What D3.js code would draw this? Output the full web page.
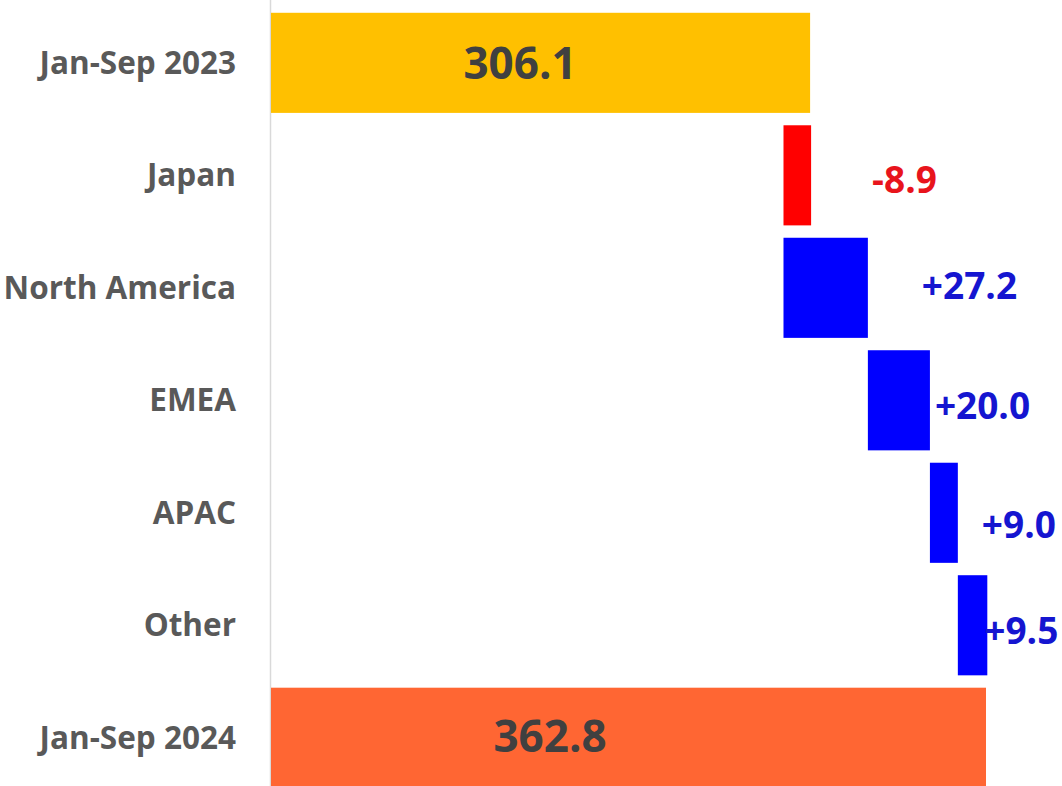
<!DOCTYPE html>
<html><head><meta charset="utf-8">
<script src="https://cdn.jsdelivr.net/npm/d3@7"></script>
<style>html,body{margin:0;padding:0;background:#fff;overflow:hidden}</style>
</head><body>
<svg id="c" width="1062" height="786"></svg>
<script>
const categories = ["Jan-Sep 2023","Japan","North America","EMEA","APAC","Other","Jan-Sep 2024"];
const kinds = ["total","delta","delta","delta","delta","delta","total"];
const values = [306.1, -8.9, 27.2, 20.0, 9.0, 9.5, 362.8];
const valueLabels = ["306.1","-8.9","+27.2","+20.0","+9.0","+9.5","362.8"];
const axisMin = 132;

// compute waterfall spans
let run = 0;
const rows = categories.map((c,i)=>{
  let s,e;
  if (kinds[i]==="total"){ s = axisMin; e = values[i]; run = values[i]; }
  else { s = run; e = run + values[i]; run = e; }
  return {cat:c, kind:kinds[i], v:values[i], lab:valueLabels[i], lo:Math.min(s,e), hi:Math.max(s,e), end:e};
});

const svg = d3.select("#c");
const x = d3.scaleLinear().domain([axisMin, 362.8]).range([270, 986]);
const y = d3.scaleBand().domain(categories).range([6.6, 794]).paddingInner(0.11).paddingOuter(0.055);

const colorFor = (d,i)=> i===0 ? "#FFC000" : (d.kind==="total" ? "#FF6633" : (d.v<0 ? "#FF0000" : "#0000FF"));

// axis line
svg.append("line").attr("x1",270.5).attr("x2",270.5).attr("y1",0).attr("y2",786)
  .attr("stroke","#d9d9d9").attr("stroke-width",1.5);

svg.selectAll("rect.bar").data(rows).enter().append("rect")
  .attr("x", d=>x(d.lo)+1).attr("width", d=>x(d.hi)-x(d.lo)-(d.kind==="total"?1:0))
  .attr("y", d=>y(d.cat)).attr("height", y.bandwidth())
  .attr("fill", colorFor);

// category labels
const yAxis = d3.axisLeft(y).tickSize(0).tickPadding(0);
const ga = svg.append("g").attr("transform","translate(236,0)").call(yAxis);
ga.select(".domain").remove();
ga.selectAll("text").attr("font-family","'Open Sans', sans-serif").attr("font-weight","700")
  .attr("font-size","31.5px").attr("fill","#595959").attr("dy","0.35em");

// total labels (inside)
const totalOffsets = [250, 280];
const totalDy = [1, -1];
let ti = 0;
rows.forEach((d)=>{
  if (d.kind!=="total") return;
  const k = ti++;
  svg.append("text").attr("x", x(axisMin)+totalOffsets[k]).attr("y", y(d.cat)+y.bandwidth()/2+totalDy[k])
    .attr("text-anchor","middle").attr("dy","0.35em")
    .attr("font-family","'Open Sans', sans-serif").attr("font-weight","700").attr("font-size","44px")
    .attr("fill","#404040").text(d.lab);
});

// delta labels (outside right)
const deltaGap = [62, 55, 6, 25, -2];
const deltaDy = [5, -1.5, 6, 12, 6];
let di = 0;
rows.forEach((d)=>{
  if (d.kind!=="delta") return;
  const k = di++;
  svg.append("text").attr("x", x(d.hi)+deltaGap[k]).attr("y", y(d.cat)+y.bandwidth()/2+deltaDy[k])
    .attr("dy","0.35em").attr("text-anchor","start")
    .attr("font-family","'Open Sans', sans-serif").attr("font-weight","700").attr("font-size","37px")
    .attr("fill", d.v<0 ? "#E8141C" : "#1515D0").text(d.lab);
});
</script>
</body></html>
